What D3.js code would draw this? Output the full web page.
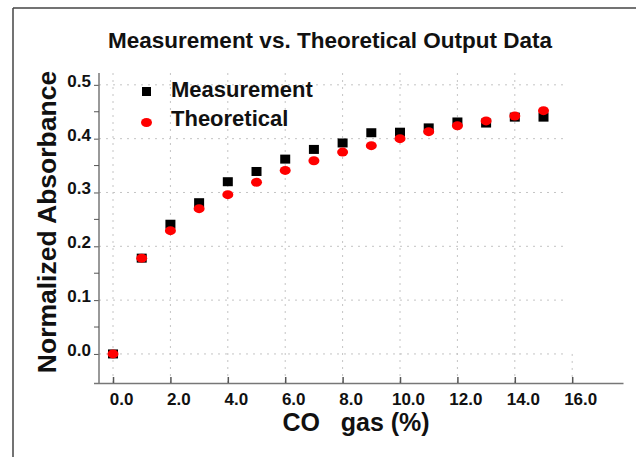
<!DOCTYPE html>
<html lang="en">

<head>
    <meta charset="utf-8">
    <title>Measurement vs. Theoretical Output Data</title>
    <script type="text/javascript" src="https://cdn.jsdelivr.net/npm/d3@7"></script>
    <style>
        body {
            margin: 0;
            background: #fff;
        }

        svg text {
            font-family: "Liberation Sans", Arial, sans-serif;
            font-weight: bold;
            fill: #111;
        }

        .grid line {
            stroke: #c4c4c4;
            stroke-width: 1;
            stroke-dasharray: 2, 5;
        }
    </style>
</head>

<body>
    <script type="text/javascript">
        // CO gas concentration (%)
        var gas = [0, 1, 2, 3, 4, 5, 6, 7, 8, 9, 10, 11, 12, 13, 14, 15];

        // Normalized absorbance
        var measurement = [0.0, 0.178, 0.241, 0.281, 0.32, 0.339, 0.362, 0.38, 0.392, 0.411, 0.412, 0.42, 0.431, 0.429, 0.44, 0.44];
        var theoretical = [0.0, 0.178, 0.229, 0.27, 0.296, 0.319, 0.341, 0.359, 0.375, 0.387, 0.40, 0.413, 0.424, 0.433, 0.442, 0.452];

        var xTicks = [0, 2, 4, 6, 8, 10, 12, 14, 16];
        var yTicks = [0, 0.1, 0.2, 0.3, 0.4, 0.5];
        var yMinor = [0.05, 0.15, 0.25, 0.35, 0.45];

        var w = 636;
        var h = 457;

        var svg = d3.select("body")
            .append("svg")
            .attr("width", w).attr("height", h);

        // frame (left and top only, like the picture)
        svg.append("line").attr("x1", 13).attr("x2", 13).attr("y1", 8).attr("y2", h)
            .style("stroke", "#444").style("stroke-width", 1.5);
        svg.append("line").attr("x1", 13).attr("x2", w).attr("y1", 8).attr("y2", 8)
            .style("stroke", "#444").style("stroke-width", 1.5);

        var x = d3.scaleLinear().domain([-0.68, 17.77]).range([93.5, 623]);
        var y = d3.scaleLinear().domain([-0.054, 0.522]).range([383, 73]);
        var axisX = 99;   // where the y axis sits
        var plotRight = 565;

        // dotted grid
        var grid = svg.append("g").attr("class", "grid");
        grid.selectAll(".hg")
            .data(yTicks)
            .enter()
            .append("line")
            .attr("x1", axisX).attr("x2", plotRight)
            .attr("y1", d => y(d)).attr("y2", d => y(d));
        grid.selectAll(".vg")
            .data(xTicks)
            .enter()
            .append("line")
            .attr("x1", d => x(d)).attr("x2", d => x(d))
            .attr("y1", d => x(d) > plotRight ? y(0) : y.range()[1])
            .attr("y2", y.range()[0]);

        // x axis, ticks pointing up into the plot
        var gx = svg.append("g")
            .attr("transform", "translate(0," + y.range()[0] + ")")
            .call(d3.axisBottom(x).tickValues(xTicks).tickFormat(d3.format(".1f"))
                .tickSizeInner(-6).tickSizeOuter(0).tickPadding(10));
        gx.select(".domain").style("stroke", "#777").style("stroke-width", 1.5);
        gx.selectAll(".tick line").style("stroke", "#555").style("stroke-width", 1.5);
        gx.selectAll(".tick text").attr("dx", 8).style("font-size", "17px");

        // y axis
        var gy = svg.append("g")
            .attr("transform", "translate(" + axisX + ",0)")
            .call(d3.axisLeft(y).tickValues(yTicks).tickFormat(d3.format(".1f"))
                .tickSize(5).tickPadding(3));
        gy.select(".domain").remove();
        gy.append("line").attr("y1", y.range()[1]).attr("y2", y.range()[0])
            .style("stroke", "#777").style("stroke-width", 1.5);
        gy.selectAll(".tick line").style("stroke", "#555");
        gy.selectAll(".tick text").attr("y", -4).style("font-size", "17px");
        gy.selectAll(".minor")
            .data(yMinor)
            .enter()
            .append("line")
            .attr("x1", -5).attr("x2", 0)
            .attr("y1", d => y(d)).attr("y2", d => y(d))
            .style("stroke", "#555");

        // Measurement: black squares
        svg.selectAll("rect.meas")
            .data(gas)
            .enter()
            .append("rect")
            .attr("class", "meas")
            .attr("x", (d, i) => x(d) - 5)
            .attr("y", (d, i) => y(measurement[i]) - 4.5)
            .attr("width", 10).attr("height", 9)
            .style("fill", "#000");

        // Theoretical: red dots
        svg.selectAll("ellipse.theo")
            .data(gas)
            .enter()
            .append("ellipse")
            .attr("class", "theo")
            .attr("cx", d => x(d))
            .attr("cy", (d, i) => y(theoretical[i]))
            .attr("rx", 5.5).attr("ry", 4.5)
            .style("fill", "#f00");

        // legend
        var legend = svg.append("g");
        legend.append("rect").attr("x", 142).attr("y", 87).attr("width", 9).attr("height", 9).style("fill", "#000");
        legend.append("ellipse").attr("cx", 146.5).attr("cy", 122.5).attr("rx", 5.5).attr("ry", 4.5).style("fill", "#f00");
        legend.append("text").attr("x", 171).attr("y", 97).style("font-size", "22px").text("Measurement");
        legend.append("text").attr("x", 171).attr("y", 126).style("font-size", "22px").text("Theoretical");

        // titles
        svg.append("text")
            .attr("x", 330).attr("y", 48)
            .attr("text-anchor", "middle")
            .style("font-size", "22.5px")
            .text("Measurement vs. Theoretical Output Data");

        svg.append("text")
            .attr("x", 356).attr("y", 431)
            .attr("text-anchor", "middle")
            .style("font-size", "25px")
            .style("white-space", "pre")
            .text("CO   gas (%)");

        svg.append("text")
            .attr("transform", "translate(56,222) rotate(-90)")
            .attr("text-anchor", "middle")
            .style("font-size", "26.5px")
            .text("Normalized Absorbance");
    </script>
</body>

</html>
